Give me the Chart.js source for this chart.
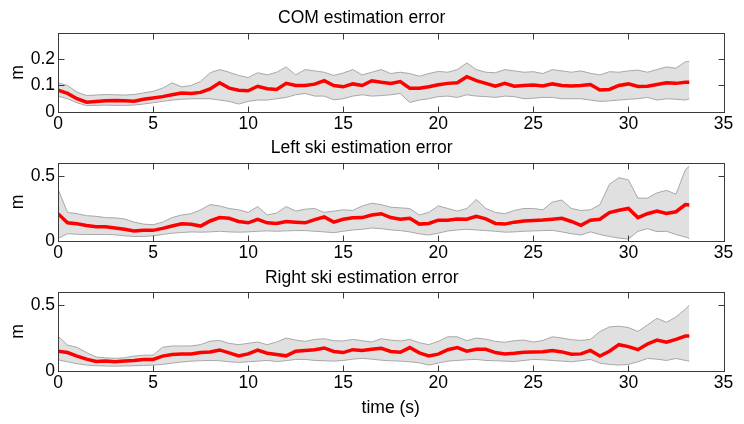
<!DOCTYPE html>
<html>
<head>
<meta charset="utf-8">
<script src="https://cdn.jsdelivr.net/npm/chart.js@4"></script>
<style>
  body { margin: 0; background: #fff; }
  #wrap { position: relative; width: 744px; height: 424px; }
  canvas { position: absolute; left: 0; }
</style>
</head>
<body>
<div id="wrap">
  <canvas id="com" width="744" height="130" style="top:0"></canvas>
  <canvas id="left" width="744" height="130" style="top:130px"></canvas>
  <canvas id="right" width="744" height="164" style="top:260px"></canvas>
</div>
<script>
'use strict';

// time stamps (s)
let time = [0, 0.5, 1, 1.5, 2, 2.5, 3, 3.5, 4, 4.5,
  5, 5.5, 6, 6.5, 7, 7.5, 8, 8.5, 9, 9.5,
  10, 10.5, 11, 11.5, 12, 12.5, 13, 13.5, 14, 14.5,
  15, 15.5, 16, 16.5, 17, 17.5, 18, 18.5, 19, 19.5,
  20, 20.5, 21, 21.5, 22, 22.5, 23, 23.5, 24, 24.5,
  25, 25.5, 26, 26.5, 27, 27.5, 28, 28.5, 29, 29.5,
  30, 30.5, 31, 31.5, 32, 32.5, 33, 33.2];

// COM estimation error (m)
let comMean = [0.082, 0.07, 0.05, 0.037, 0.04, 0.042, 0.043, 0.042, 0.041, 0.048,
  0.053, 0.058, 0.065, 0.072, 0.07, 0.074, 0.087, 0.11, 0.09, 0.082,
  0.08, 0.097, 0.088, 0.085, 0.108, 0.1, 0.1, 0.105, 0.118, 0.1,
  0.095, 0.106, 0.1, 0.118, 0.112, 0.108, 0.115, 0.09, 0.09, 0.095,
  0.103, 0.108, 0.11, 0.133, 0.118, 0.108, 0.097, 0.108, 0.097, 0.1,
  0.102, 0.098, 0.106, 0.1, 0.098, 0.1, 0.104, 0.083, 0.085, 0.1,
  0.106, 0.096, 0.097, 0.104, 0.11, 0.108, 0.112, 0.112];
let comUpper = [0.11, 0.1, 0.075, 0.062, 0.064, 0.066, 0.065, 0.064, 0.066, 0.072,
  0.078, 0.09, 0.11, 0.095, 0.1, 0.115, 0.148, 0.16, 0.15, 0.138,
  0.13, 0.148, 0.14, 0.15, 0.17, 0.14, 0.16, 0.155, 0.15, 0.138,
  0.147, 0.16, 0.14, 0.15, 0.16, 0.145, 0.15, 0.145, 0.135, 0.145,
  0.153, 0.15, 0.16, 0.185, 0.16, 0.15, 0.148, 0.16, 0.155, 0.15,
  0.152, 0.145, 0.16, 0.155, 0.15, 0.155, 0.146, 0.14, 0.152, 0.15,
  0.155, 0.158, 0.15, 0.16, 0.17, 0.165, 0.19, 0.19];
let comLower = [0.06, 0.05, 0.035, 0.024, 0.025, 0.026, 0.025, 0.025, 0.026, 0.03,
  0.035, 0.04, 0.045, 0.048, 0.05, 0.05, 0.05, 0.045, 0.04, 0.03,
  0.04, 0.045, 0.045, 0.05, 0.055, 0.065, 0.07, 0.06, 0.06, 0.046,
  0.05, 0.06, 0.065, 0.06, 0.062, 0.065, 0.07, 0.036, 0.045, 0.05,
  0.058, 0.06, 0.055, 0.065, 0.06, 0.058, 0.055, 0.06, 0.058, 0.05,
  0.052, 0.055, 0.055, 0.05, 0.05, 0.05, 0.045, 0.04, 0.042, 0.045,
  0.048, 0.05, 0.055, 0.045, 0.05, 0.048, 0.045, 0.05];

// Left ski estimation error (m)
let leftMean = [0.21, 0.14, 0.133, 0.12, 0.11, 0.11, 0.1, 0.09, 0.077, 0.082,
  0.082, 0.097, 0.115, 0.133, 0.128, 0.115, 0.154, 0.18, 0.175, 0.15,
  0.14, 0.167, 0.14, 0.135, 0.15, 0.145, 0.14, 0.165, 0.185, 0.145,
  0.167, 0.178, 0.18, 0.2, 0.21, 0.18, 0.168, 0.175, 0.13, 0.135,
  0.16, 0.16, 0.17, 0.167, 0.19, 0.17, 0.135, 0.13, 0.145, 0.154,
  0.158, 0.162, 0.168, 0.175, 0.15, 0.12, 0.16, 0.167, 0.218, 0.236,
  0.25, 0.18, 0.21, 0.23, 0.212, 0.225, 0.28, 0.277];
let leftUpper = [0.4, 0.22, 0.21, 0.195, 0.19, 0.18, 0.178, 0.17, 0.145, 0.13,
  0.125, 0.145, 0.18, 0.2, 0.21, 0.24, 0.28, 0.27, 0.25, 0.24,
  0.22, 0.265, 0.2, 0.215, 0.265, 0.23, 0.245, 0.25, 0.22, 0.23,
  0.24, 0.235, 0.27, 0.29, 0.28, 0.26, 0.255, 0.25, 0.2, 0.22,
  0.27, 0.25, 0.23, 0.25, 0.32, 0.25, 0.22, 0.21, 0.235, 0.25,
  0.25, 0.24, 0.3, 0.315, 0.25, 0.235, 0.24, 0.28, 0.436, 0.487,
  0.47, 0.33, 0.33, 0.37, 0.39, 0.36, 0.55, 0.575];
let leftLower = [0.02, 0.056, 0.052, 0.05, 0.05, 0.05, 0.048, 0.04, 0.035, 0.035,
  0.04, 0.05, 0.06, 0.065, 0.07, 0.068, 0.07, 0.075, 0.07, 0.068,
  0.07, 0.075, 0.078, 0.075, 0.078, 0.08, 0.08, 0.075, 0.07, 0.064,
  0.075, 0.085, 0.09, 0.1, 0.095, 0.085, 0.08, 0.07, 0.055, 0.046,
  0.06, 0.077, 0.085, 0.09, 0.085, 0.08, 0.075, 0.068, 0.07, 0.075,
  0.078, 0.08, 0.082, 0.07, 0.056, 0.046, 0.07, 0.05, 0.035, 0.022,
  0.015, 0.075, 0.095, 0.072, 0.075, 0.05, 0.03, 0.02];

// Right ski estimation error (m)
let rightMean = [0.15, 0.14, 0.113, 0.09, 0.072, 0.076, 0.07, 0.076, 0.08, 0.088,
  0.088, 0.113, 0.125, 0.13, 0.13, 0.14, 0.145, 0.16, 0.138, 0.115,
  0.13, 0.158, 0.135, 0.125, 0.115, 0.15, 0.156, 0.162, 0.175, 0.148,
  0.14, 0.162, 0.156, 0.165, 0.172, 0.148, 0.142, 0.178, 0.138, 0.115,
  0.128, 0.162, 0.178, 0.15, 0.165, 0.165, 0.14, 0.13, 0.135, 0.142,
  0.145, 0.146, 0.155, 0.145, 0.128, 0.13, 0.156, 0.114, 0.15, 0.2,
  0.185, 0.162, 0.205, 0.235, 0.218, 0.24, 0.265, 0.265];
let rightUpper = [0.265, 0.197, 0.18, 0.14, 0.106, 0.1, 0.096, 0.1, 0.113, 0.12,
  0.12, 0.18, 0.19, 0.19, 0.19, 0.2, 0.227, 0.232, 0.21, 0.2,
  0.21, 0.22, 0.2, 0.22, 0.25, 0.235, 0.225, 0.24, 0.245, 0.23,
  0.228, 0.24, 0.23, 0.22, 0.245, 0.235, 0.228, 0.24, 0.215, 0.2,
  0.225, 0.26, 0.26, 0.23, 0.25, 0.242, 0.225, 0.218, 0.23, 0.235,
  0.22, 0.232, 0.26, 0.25, 0.238, 0.232, 0.24, 0.3, 0.335, 0.34,
  0.33, 0.3, 0.35, 0.4, 0.37, 0.41, 0.47, 0.5];
let rightLower = [0.085, 0.07, 0.055, 0.045, 0.04, 0.038, 0.037, 0.038, 0.04, 0.042,
  0.045, 0.05, 0.06, 0.068, 0.075, 0.078, 0.08, 0.078, 0.07, 0.065,
  0.07, 0.075, 0.08, 0.072, 0.078, 0.088, 0.088, 0.08, 0.078, 0.075,
  0.08, 0.09, 0.096, 0.09, 0.082, 0.078, 0.075, 0.07, 0.062, 0.045,
  0.06, 0.075, 0.08, 0.085, 0.088, 0.08, 0.078, 0.075, 0.072, 0.08,
  0.088, 0.085, 0.08, 0.075, 0.07, 0.078, 0.088, 0.06, 0.05, 0.045,
  0.05, 0.07, 0.095, 0.09, 0.08, 0.095, 0.08, 0.075];

// axis ticks / limits
let timeTicks = [0, 5, 10, 15, 20, 25, 30, 35];
let comTicks = [0, 0.1, 0.2];
let skiTicks = [0, 0.5];
let comMax = 0.298;
let skiMax = 0.6;

let fontFamily = '"Liberation Sans", Arial, Helvetica, sans-serif';
let fontSize = 17.5;

// draws the axes box and the inward tick marks (matlab style)
let boxPlugin = {
  id: 'box',
  afterDraw(chart) {
    let ctx = chart.ctx;
    let a = chart.chartArea;
    let xs = chart.scales.x;
    let ys = chart.scales.y;
    let left = Math.round(a.left) + 0.5;
    let right = Math.round(a.right) + 0.5;
    let top = Math.round(a.top) + 0.5;
    let bottom = Math.round(a.bottom) + 0.5;
    ctx.save();
    ctx.strokeStyle = '#3a3a3a';
    ctx.lineWidth = 1;
    ctx.beginPath();
    for (let i = 0; i < xs.ticks.length; i++) {
      let px = Math.round(xs.getPixelForValue(xs.ticks[i].value)) + 0.5;
      ctx.moveTo(px, bottom);
      ctx.lineTo(px, bottom - 6);
      ctx.moveTo(px, top);
      ctx.lineTo(px, top + 6);
    }
    for (let i = 0; i < ys.ticks.length; i++) {
      let py = Math.round(ys.getPixelForValue(ys.ticks[i].value)) + 0.5;
      ctx.moveTo(left, py);
      ctx.lineTo(left + 6, py);
      ctx.moveTo(right, py);
      ctx.lineTo(right - 6, py);
    }
    ctx.stroke();
    ctx.strokeRect(left, top, right - left, bottom - top);
    ctx.restore();
  }
};

function toPoints(values) {
  let pts = [];
  for (let i = 0; i < time.length; i++) {
    pts.push({ x: time[i], y: values[i] });
  }
  return pts;
}

function makeChart(id, title, mean, upper, lower, yMax, yTicks, opts) {
  let font = { family: fontFamily, size: fontSize };
  let ctx = document.getElementById(id).getContext('2d');
  let config = {
    type: 'line',
    data: {
      datasets: [{
        data: toPoints(upper),
        borderColor: '#a8a8a8',
        borderWidth: 1,
        backgroundColor: '#e0e0e0',
        fill: '+1',
        pointRadius: 0,
        tension: 0,
        order: 2
      },
      {
        data: toPoints(lower),
        borderColor: '#a8a8a8',
        borderWidth: 1,
        fill: false,
        pointRadius: 0,
        tension: 0,
        order: 1
      },
      {
        data: toPoints(mean),
        borderColor: '#ff0000',
        borderWidth: 3.5,
        fill: false,
        pointRadius: 0,
        tension: 0,
        order: 0
      }]
    },
    options: {
      responsive: false,
      animation: false,
      events: [],
      layout: { padding: { left: 0, right: 20.5, top: 0, bottom: 0 } },
      plugins: {
        legend: { display: false },
        tooltip: { enabled: false },
        title: {
          display: true,
          text: title,
          color: '#000',
          font: { family: fontFamily, size: fontSize, weight: 'normal' },
          padding: { top: 8, bottom: opts.titleBottom }
        }
      },
      scales: {
        x: {
          type: 'linear',
          min: 0,
          max: 35,
          afterBuildTicks: (scale) => { scale.ticks = timeTicks.map(v => ({ value: v })); },
          afterFit: (scale) => { scale.height = opts.xHeight; },
          grid: { display: false, drawTicks: false },
          border: { display: false },
          ticks: { color: '#000', font: font, padding: 2, maxRotation: 0 },
          title: {
            display: opts.xTitle !== '',
            text: opts.xTitle,
            color: '#000',
            font: font,
            padding: { top: 0, bottom: 5 }
          }
        },
        y: {
          min: 0,
          max: yMax,
          afterBuildTicks: (scale) => { scale.ticks = yTicks.map(v => ({ value: v })); },
          afterFit: (scale) => { scale.width = 58; },
          grid: { display: false, drawTicks: false },
          border: { display: false },
          ticks: { color: '#000', font: font, padding: 3 },
          title: {
            display: true,
            text: 'm',
            color: '#000',
            font: font,
            padding: { top: 8, bottom: 0 }
          }
        }
      }
    },
    plugins: [boxPlugin]
  };
  return new Chart(ctx, config); //eslint-disable-line
}

makeChart('com', 'COM estimation error', comMean, comUpper, comLower, comMax, comTicks,
  { titleBottom: 4, xHeight: 18, xTitle: '' });
makeChart('left', 'Left ski estimation error', leftMean, leftUpper, leftLower, skiMax, skiTicks,
  { titleBottom: 4, xHeight: 19, xTitle: '' });
makeChart('right', 'Right ski estimation error', rightMean, rightUpper, rightLower, skiMax, skiTicks,
  { titleBottom: 3, xHeight: 53, xTitle: 'time (s)' });
</script>
</body>
</html>
